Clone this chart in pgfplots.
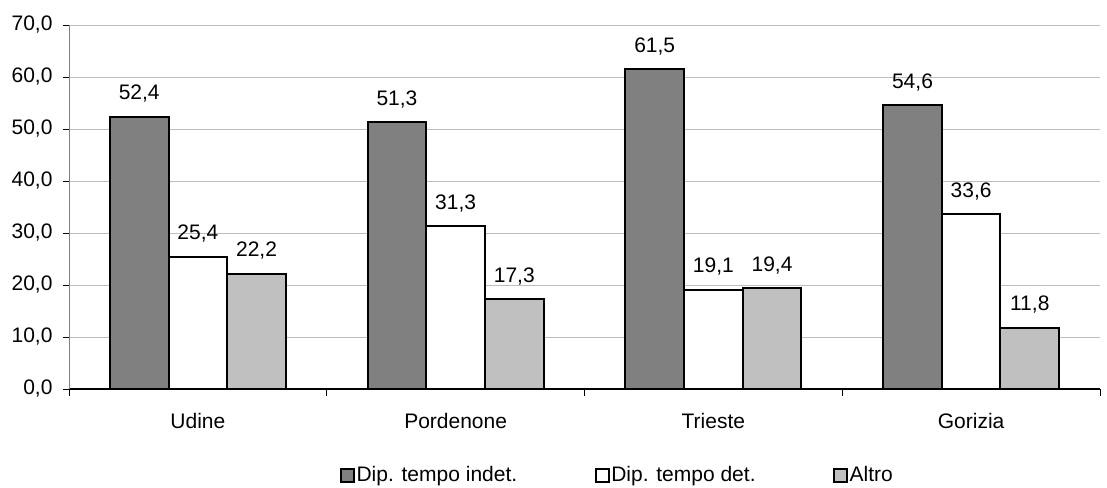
\documentclass[border=0pt]{standalone}
\usepackage{pgfplots}
\pgfplotsset{compat=1.18}
\usepackage{fontspec}
\setmainfont{Liberation Sans}
\definecolor{darkbar}{HTML}{808080}
\definecolor{lightbar}{HTML}{C0C0C0}
\definecolor{gridc}{HTML}{BDBDBD}

\pgfplotstableread{
x indet det altro
0 52.4 25.4 22.2
1 51.3 31.3 17.3
2 61.5 19.1 19.4
3 54.6 33.6 11.8
}\datatable

\begin{document}
\begin{tikzpicture}[font=\fontsize{21}{24}\selectfont]
\begin{axis}[
  name=ax,
  scale only axis,
  width=1031pt, height=364pt,
  xmin=-0.5, xmax=3.5,
  ymin=0, ymax=70,
  ytick={0,10,...,70},
  xtick={0,1,2,3},
  xticklabels={Udine,Pordenone,Trieste,Gorizia},
  minor xtick={-0.5,0.5,1.5,2.5,3.5},
  major x tick style={draw=none},
  minor tick length=7pt,
  major tick length=6pt,
  tick align=outside,
  tick style={black, line width=0.8pt},
  axis x line*=bottom,
  axis y line*=left,
  x axis line style={black, line width=1.3pt},
  y axis line style={darkbar, line width=1pt},
  ymajorgrids,
  grid style={gridc, line width=0.9pt},
  tick label style={font=\fontsize{21}{24}\selectfont},
  xticklabel style={yshift=-15pt},
  yticklabel style={xshift=-7pt, /pgf/number format/.cd, fixed, fixed zerofill, precision=1, use comma, assume math mode=true},
  /pgf/number format/assume math mode=true,
  ybar,
  bar width=0.2275,
  nodes near coords,
  nodes near coords style={font=\fontsize{21}{24}\selectfont, yshift=10pt,
    /pgf/number format/.cd, fixed, fixed zerofill, precision=1, use comma, assume math mode=true},
  legend style={at={(0.2629,-0.2363)}, anchor=west, draw=none, fill=none,
    inner sep=0pt, outer sep=0pt,
    legend columns=3, font=\fontsize{21}{24}\selectfont,
    nodes={inner sep=1.5pt},
    /tikz/every odd column/.append style={column sep=0pt},
    /tikz/every even column/.append style={column sep=76pt},
    legend cell align=left},
  legend image code/.code={\draw[#1, line width=2pt] (0pt,-6.5pt) rectangle (13pt,6.5pt);},
  clip=false,
]
\addplot[bar shift=-0.2275, fill=darkbar, draw=black, line width=2pt] table[x=x, y=indet] {\datatable};
\addlegendentry{Dip. tempo indet.}
\addplot[bar shift=0, fill=white, draw=black, line width=2pt] table[x=x, y=det] {\datatable};
\addlegendentry{Dip. tempo det.}
\addplot[bar shift=0.2275, fill=lightbar, draw=black, line width=2pt] table[x=x, y=altro] {\datatable};
\addlegendentry{Altro}
\end{axis}
\pgfresetboundingbox
\path ([xshift=-69pt,yshift=-98pt]ax.south west) rectangle ([xshift=7pt,yshift=25pt]ax.north east);
\end{tikzpicture}
\end{document}
